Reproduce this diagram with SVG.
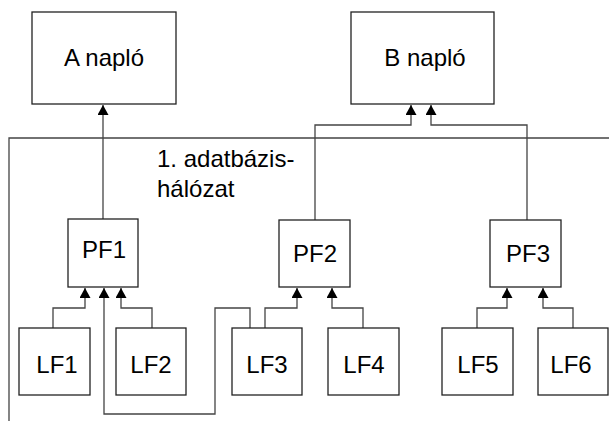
<svg xmlns="http://www.w3.org/2000/svg" width="609" height="421" viewBox="0 0 609 421">
  <style>
    .box { fill: #fff; stroke: #222; stroke-width: 1.3; }
    .lbl { font-family: "Liberation Sans", Arial, sans-serif; font-size: 24px; fill: #000; text-anchor: middle; }
    .net { font-family: "Liberation Sans", Arial, sans-serif; font-size: 24px; fill: #000; }
    .wire { fill: none; stroke: #444; stroke-width: 1.3; }
  </style>
  <defs>
    <marker id="arrow" viewBox="0 0 10 11" refX="10" refY="5.5" markerWidth="10" markerHeight="11" markerUnits="userSpaceOnUse" orient="auto">
      <path d="M0,0 L10,5.5 L0,11 Z" fill="#000"/>
    </marker>
  </defs>

  <!-- connectors -->
  <g id="connectors">
    <!-- network bus -->
    <path class="wire" d="M9,421 V138 H609"/>
    <!-- PF1 -> A napló -->
    <path class="wire" d="M103,219 V105" marker-end="url(#arrow)"/>
    <!-- PF2 -> B napló -->
    <path class="wire" d="M315,220 V125 H411 V105" marker-end="url(#arrow)"/>
    <!-- PF3 -> B napló -->
    <path class="wire" d="M527,220 V125 H431 V105" marker-end="url(#arrow)"/>
    <!-- LF1, LF2 -> PF1 -->
    <path class="wire" d="M53,328 V308 H85 V288" marker-end="url(#arrow)"/>
    <path class="wire" d="M152,328 V308 H121 V288" marker-end="url(#arrow)"/>
    <!-- LF3 -> PF1 -->
    <path class="wire" d="M250,328 V308 H215 V414 H104 V288" marker-end="url(#arrow)"/>
    <!-- LF3, LF4 -> PF2 -->
    <path class="wire" d="M265,328 V308 H297 V288" marker-end="url(#arrow)"/>
    <path class="wire" d="M363,328 V308 H332 V288" marker-end="url(#arrow)"/>
    <!-- LF5, LF6 -> PF3 -->
    <path class="wire" d="M477,328 V308 H507 V288" marker-end="url(#arrow)"/>
    <path class="wire" d="M573,328 V308 H543 V288" marker-end="url(#arrow)"/>
  </g>

  <text class="net" x="157" y="167">1. adatbázis-</text>
  <text class="net" x="157" y="197">hálózat</text>

  <g id="a-naplo"><rect class="box" x="32" y="12" width="144" height="92"/><text class="lbl" x="104" y="66">A napló</text></g>
  <g id="b-naplo"><rect class="box" x="351" y="12" width="143" height="92"/><text class="lbl" x="425" y="66">B napló</text></g>

  <g id="pf1"><rect class="box" x="68" y="219" width="70" height="68"/><text class="lbl" x="104" y="258">PF1</text></g>
  <g id="pf2"><rect class="box" x="279" y="220" width="71" height="67"/><text class="lbl" x="315" y="262">PF2</text></g>
  <g id="pf3"><rect class="box" x="490" y="220" width="71" height="67"/><text class="lbl" x="528" y="262">PF3</text></g>

  <g id="lf1"><rect class="box" x="19" y="328" width="71" height="67"/><text class="lbl" x="57" y="373">LF1</text></g>
  <g id="lf2"><rect class="box" x="116" y="328" width="70" height="67"/><text class="lbl" x="151" y="373">LF2</text></g>
  <g id="lf3"><rect class="box" x="232" y="328" width="70" height="67"/><text class="lbl" x="267" y="373">LF3</text></g>
  <g id="lf4"><rect class="box" x="328" y="328" width="71" height="67"/><text class="lbl" x="364" y="373">LF4</text></g>
  <g id="lf5"><rect class="box" x="442" y="328" width="71" height="67"/><text class="lbl" x="478" y="373">LF5</text></g>
  <g id="lf6"><rect class="box" x="538" y="328" width="70" height="67"/><text class="lbl" x="571" y="373">LF6</text></g>
</svg>
